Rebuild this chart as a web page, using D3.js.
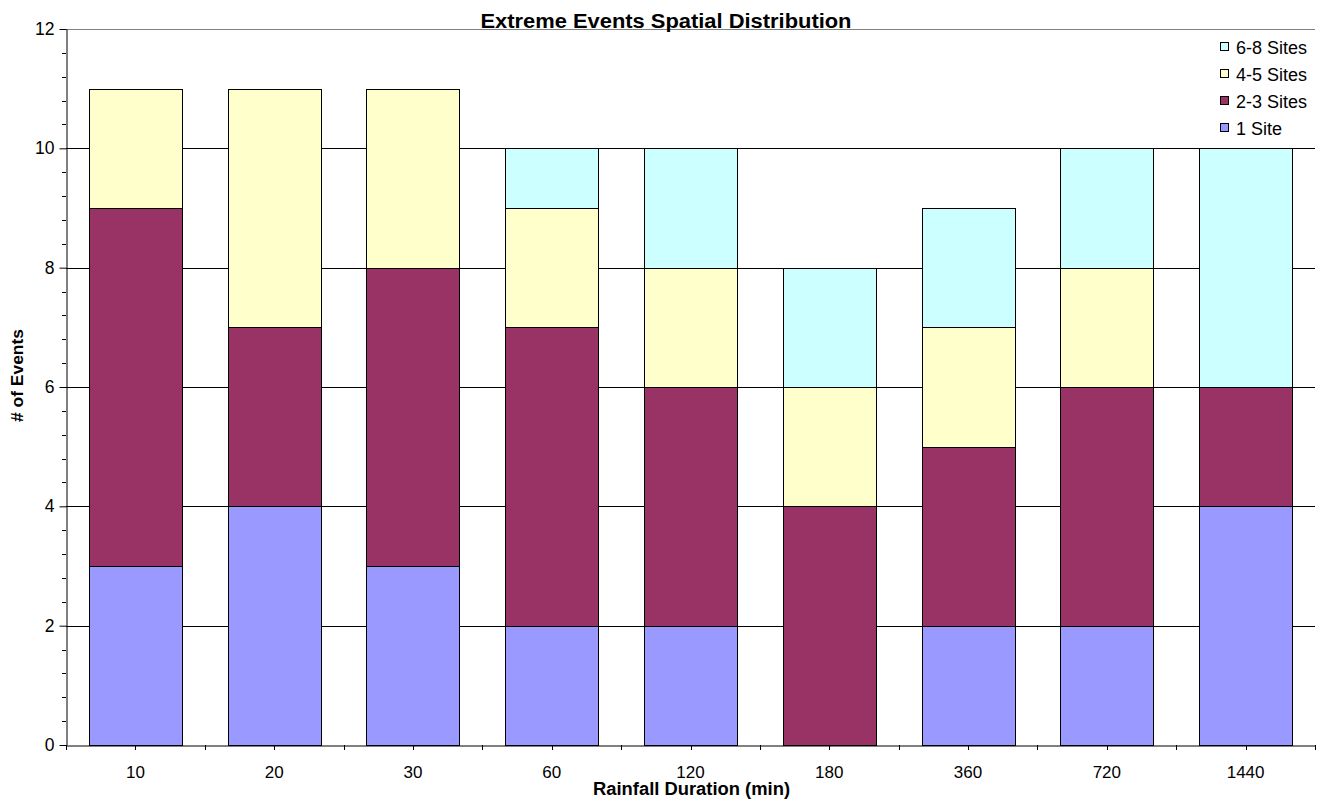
<!DOCTYPE html>
<html><head><meta charset="utf-8">
<script src="https://cdn.jsdelivr.net/npm/d3@7"></script>
<style>body{margin:0;background:#fff;} text{font-family:"Liberation Sans",Arial,sans-serif;}</style>
</head><body>
<svg id="c" width="1320" height="801"></svg>
<script>
const categories = ["10","20","30","60","120","180","360","720","1440"];
const seriesNames = ["1 Site","2-3 Sites","4-5 Sites","6-8 Sites"];
const site1 = [3,4,3,2,2,0,2,2,4];
const sites23 = [6,3,5,5,4,4,3,4,2];
const sites45 = [2,4,3,2,2,2,2,2,0];
const sites68 = [0,0,0,1,2,2,2,2,4];
const colors = ["#9999FF","#993366","#FFFFCC","#CCFFFF"];
const yTicks = [0,2,4,6,8,10,12];

const FONT = "Liberation Sans, Arial, sans-serif";
const svg = d3.select("#c");
const m = {l:66, r:1315, t:29, b:745};
const x = d3.scaleBand().domain(categories).range([m.l, m.r]).paddingInner(0.33).paddingOuter(0.165);
const xb = d3.scaleBand().domain(categories).range([m.l, m.r]);
const y = d3.scaleLinear().domain([0,12]).range([m.b, m.t]);

// gridlines
svg.append("g").selectAll("line").data(yTicks.filter(d=>d>0&&d<12)).join("line")
  .attr("x1",m.l).attr("x2",m.r).attr("y1",d=>Math.round(y(d))+0.5).attr("y2",d=>Math.round(y(d))+0.5)
  .attr("stroke","#000").attr("stroke-width",1);
// top plot border (gray)
svg.append("line").attr("x1",m.l).attr("x2",m.r).attr("y1",y(12)+0.5).attr("y2",y(12)+0.5).attr("stroke","#808080");

// stacked data
const table = categories.map((c,i)=>({cat:c, "1 Site":site1[i], "2-3 Sites":sites23[i], "4-5 Sites":sites45[i], "6-8 Sites":sites68[i]}));
const stack = d3.stack().keys(seriesNames)(table);
const gBars = svg.append("g");
stack.forEach((s,si)=>{
  gBars.selectAll(null).data(s.filter(d=>d[1]-d[0]>0)).join("rect")
    .attr("x",d=>Math.round(x(d.data.cat))+0.5)
    .attr("width",Math.round(x.bandwidth()))
    .attr("y",d=>Math.round(y(d[1]))+0.5)
    .attr("height",d=>Math.round(y(d[0]))-Math.round(y(d[1])))
    .attr("fill",colors[si]).attr("stroke","#000").attr("stroke-width",1);
});

// y axis
const yAxis = d3.axisLeft(y).tickValues(yTicks).tickSize(7).tickPadding(5).tickSizeOuter(0);
const gy = svg.append("g").attr("transform",`translate(${m.l+0.5},0)`).call(yAxis);
gy.select(".domain").attr("stroke","#000");
gy.selectAll("text").attr("font-size",17.5).attr("font-family",FONT).attr("fill","#000");
const yMinor = d3.range(0,12.01,0.4).filter(v=>Math.abs(v/2-Math.round(v/2))>1e-6);
svg.append("g").selectAll("line").data(yMinor).join("line")
  .attr("x1",m.l-4).attr("x2",m.l).attr("y1",d=>Math.round(y(d))+0.5).attr("y2",d=>Math.round(y(d))+0.5).attr("stroke","#000");

// x axis
const gx = svg.append("g").attr("transform",`translate(0,${m.b+0.5})`)
  .call(d3.axisBottom(x).tickSize(0).tickPadding(20).tickSizeOuter(0));
gx.select(".domain").attr("stroke","#000");
gx.selectAll("text").attr("font-size",17).attr("font-family",FONT).attr("fill","#000");
const xTickPos = [];
categories.forEach(c=>{ xTickPos.push(xb(c)); xTickPos.push(xb(c)+xb.bandwidth()/2); });
xTickPos.push(m.r);
svg.append("g").selectAll("line").data(xTickPos).join("line")
  .attr("x1",d=>Math.round(d)+0.5).attr("x2",d=>Math.round(d)+0.5).attr("y1",m.b).attr("y2",m.b+5).attr("stroke","#000");

// title & labels
svg.append("text").attr("x",666).attr("y",27.5).attr("text-anchor","middle")
  .attr("font-size",20).attr("font-weight","bold")
  .attr("textLength",371).attr("lengthAdjust","spacingAndGlyphs")
  .text("Extreme Events Spatial Distribution");
svg.append("text").attr("x",691.5).attr("y",795).attr("text-anchor","middle")
  .attr("font-size",18).attr("font-weight","bold")
  .attr("textLength",197).attr("lengthAdjust","spacingAndGlyphs")
  .text("Rainfall Duration (min)");
svg.append("text").attr("transform","translate(23,375.5) rotate(-90)").attr("text-anchor","middle")
  .attr("font-size",17.4).attr("font-weight","bold").text("# of Events");

// legend
const legendItems = seriesNames.slice().reverse();
const lg = svg.append("g");
legendItems.forEach((n,i)=>{
  const base = 54 + i*27;
  lg.append("rect").attr("x",1220.5).attr("y",base-11.5).attr("width",8).attr("height",8)
    .attr("fill",colors[seriesNames.indexOf(n)]).attr("stroke","#000");
  lg.append("text").attr("x",1236).attr("y",base).attr("font-size",18).text(n);
});
</script>
</body></html>
